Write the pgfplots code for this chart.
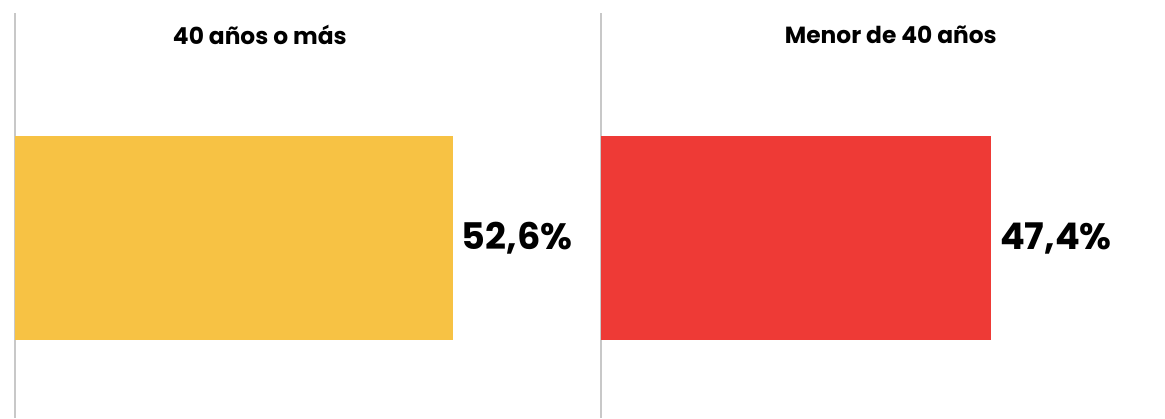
\documentclass[border=0pt]{standalone}
\usepackage{pgfplots}
\pgfplotsset{compat=1.18}
\usepackage{fontspec}
\setmainfont{Poppins}
\definecolor{barY}{HTML}{F7C244}
\definecolor{barR}{HTML}{EE3A36}
\definecolor{lineG}{HTML}{C8C8C8}
\newlength{\U}\setlength{\U}{0.6pt}
\pgfplotsset{
  panel/.style={
    scale only axis, hide axis, clip=false,
    height=405\U, ymin=-180, ymax=225,
    xmin=0, xbar, bar width=204,
    anchor=south west,
  }
}
\begin{document}
\begin{tikzpicture}
\useasboundingbox (0,0) rectangle (1165\U,418\U);
\begin{axis}[panel, at={(15\U,0)}, width=585\U, xmax=70.25]
  \draw[lineG, line width=1.5\U] (rel axis cs:0,0) -- (rel axis cs:0,1);
  \addplot[fill=barY, draw=none,
    nodes near coords={\fontsize{22}{26}\selectfont\bfseries 52,6\%},
    nodes near coords align={horizontal},
    every node near coord/.append style={anchor=west, xshift=3\U, text=black}]
    coordinates {(52.6,0)};
  \node[font=\fontsize{14}{18}\selectfont\bfseries] at (axis cs:29.4,203) {40 años o más};
\end{axis}
\begin{axis}[panel, at={(601\U,0)}, width=564\U, xmax=68.5]
  \draw[lineG, line width=1.5\U] (rel axis cs:0,0) -- (rel axis cs:0,1);
  \addplot[fill=barR, draw=none,
    nodes near coords={\fontsize{22}{26}\selectfont\bfseries 47,4\%},
    nodes near coords align={horizontal},
    every node near coord/.append style={anchor=west, xshift=3\U, text=black}]
    coordinates {(47.4,0)};
  \node[font=\fontsize{14}{18}\selectfont\bfseries] at (axis cs:35.2,203) {Menor de 40 años};
\end{axis}
\end{tikzpicture}
\end{document}
